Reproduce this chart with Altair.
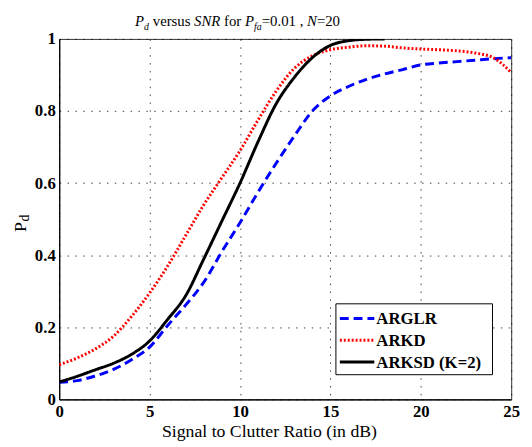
import altair as alt
import pandas as pd

# ---- data ----
snr = list(range(26))
arglr = [0.047, 0.052, 0.065, 0.083, 0.11, 0.145, 0.205, 0.262, 0.325, 0.41,
         0.49, 0.575, 0.655, 0.73, 0.8, 0.842, 0.868, 0.888, 0.903, 0.915,
         0.928, 0.933, 0.937, 0.941, 0.945, 0.948]
arkd = [0.096, 0.115, 0.14, 0.175, 0.23, 0.295, 0.37, 0.455, 0.54, 0.615,
        0.69, 0.775, 0.855, 0.918, 0.953, 0.97, 0.977, 0.981, 0.98, 0.975,
        0.972, 0.97, 0.967, 0.961, 0.948, 0.907]
snr_arksd = list(range(19))
arksd = [0.048, 0.064, 0.082, 0.1, 0.125, 0.162, 0.222, 0.288, 0.39, 0.495,
         0.6, 0.715, 0.82, 0.893, 0.948, 0.982, 0.995, 0.999, 1.0]

series_names = ["ARGLR", "ARKD", "ARKSD (K=2)"]
series_colors = ["#0000ff", "#ff0000", "#000000"]
series_dash = [[9, 5], [2, 2], [1, 0]]

x_ticks = [0, 5, 10, 15, 20, 25]
y_ticks = [0, 0.2, 0.4, 0.6, 0.8, 1.0]

rows = []
for s, v in zip(snr, arglr):
    rows.append({"snr": s, "pd": v, "series": series_names[0], "o": 0})
for s, v in zip(snr, arkd):
    rows.append({"snr": s, "pd": v, "series": series_names[1], "o": 1})
for s, v in zip(snr_arksd, arksd):
    rows.append({"snr": s, "pd": v, "series": series_names[2], "o": 2})
df = pd.DataFrame(rows)

SERIF = "Liberation Serif, Times New Roman, serif"

lines = alt.Chart(df).mark_line(strokeWidth=3, interpolate="monotone", clip=True).encode(
    x=alt.X("snr:Q", scale=alt.Scale(domain=[0, 25], nice=False),
            axis=alt.Axis(values=x_ticks, title="Signal to Clutter Ratio (in dB)",
                          titleX=213, titleY=38, titleBaseline="alphabetic",
                          titleAlign="center", labelPadding=4)),
    y=alt.Y("pd:Q", scale=alt.Scale(domain=[0, 1], nice=False),
            axis=alt.Axis(values=y_ticks, format="~g", title=None, labelPadding=4)),
    color=alt.Color("series:N", scale=alt.Scale(domain=series_names, range=series_colors),
                    legend=None),
    strokeDash=alt.StrokeDash("series:N", scale=alt.Scale(domain=series_names, range=series_dash),
                              legend=None),
    order="o:Q",
)

one = pd.DataFrame({"a": [0]})


def txt(s, x, y, size=15, style="italic", align="left", angle=0, weight="normal",
        baseline="alphabetic"):
    kw = dict(text=s, font=SERIF, fontSize=size, fontStyle=style, align=align,
              baseline=baseline, color="black", fontWeight=weight)
    if angle:
        kw["angle"] = angle
    return alt.Chart(one).mark_text(**kw).encode(x=alt.value(x), y=alt.value(y))


ty = -13
tsub = -9
title_parts = [
    txt("P", 77, ty),
    txt("d", 86.2, tsub, size=10),
    txt("versus", 95, ty, style="normal"),
    txt("SNR", 137, ty),
    txt("for", 167.4, ty, style="normal"),
    txt("P", 188.7, ty),
    txt("fa", 197.9, tsub, size=10),
    txt("=0.01", 205.7, ty, style="normal"),
    txt(",", 244.2, ty, style="normal"),
    txt("N", 251.7, ty),
    txt("=20", 261.7, ty, style="normal"),
]

ylab = [
    txt("P", -34, 191, size=18, style="normal", align="center", angle=270),
    txt("d", -31, 182, size=14, style="normal", align="center", angle=270),
]

# ---- legend box (decoration) ----
lg_box = alt.Chart(one).mark_rect(fill="white", stroke="black", strokeWidth=1).encode(
    x=alt.value(281), x2=alt.value(440), y=alt.value(269), y2=alt.value(341))
lg_items = [lg_box]
for i, (name, col, dash) in enumerate(zip(series_names, series_colors, series_dash)):
    yy = 284 + 22 * i
    lg_items.append(
        alt.Chart(one).mark_rule(color=col, strokeWidth=3, strokeDash=dash).encode(
            x=alt.value(285), x2=alt.value(320), y=alt.value(yy)))
    lg_items.append(txt(name, 322, yy + 1, size=17, style="normal", weight="bold",
                        baseline="middle"))

chart = alt.layer(lines, *title_parts, *ylab, *lg_items).properties(
    width=459, height=366,
    autosize=alt.AutoSizeParams(type="none"),
    padding={"left": 52, "top": 28, "right": 13, "bottom": 45},
).configure_view(
    stroke="#333", strokeWidth=1
).configure_axis(
    grid=True, gridColor="#000", gridDash=[1.5, 6.5], gridOpacity=0.75, gridWidth=1,
    ticks=False, domain=True, domainColor="#000", domainWidth=1.2,
    labelFont=SERIF, labelFontWeight="bold", labelFontSize=17, labelColor="#000",
    titleFont=SERIF, titleFontWeight="normal", titleFontSize=18, titleColor="#000",
    labelFlush=False,
)

chart.save("out.html", embed_options={"renderer": "svg", "actions": False})
